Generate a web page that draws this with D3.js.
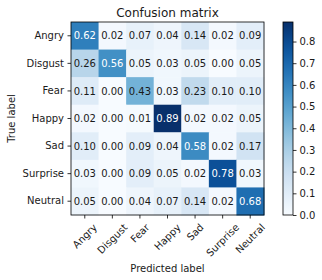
<!DOCTYPE html>
<html>
<head>
<meta charset="utf-8">
<script src="https://cdn.jsdelivr.net/npm/d3@7"></script>
<style>
  body { margin: 0; background: #fff; }
  text { font-family: "DejaVu Sans", sans-serif; fill: #1a1a1a; }
</style>
</head>
<body>
<div id="chart"></div>
<script>
// class names (rows = true, columns = predicted)
const classes = ["Angry", "Disgust", "Fear", "Happy", "Sad", "Surprise", "Neutral"];

// normalized confusion matrix, one row per true label
const rowAngry    = [0.62, 0.02, 0.07, 0.04, 0.14, 0.02, 0.09];
const rowDisgust  = [0.26, 0.56, 0.05, 0.03, 0.05, 0.00, 0.05];
const rowFear     = [0.11, 0.00, 0.43, 0.03, 0.23, 0.10, 0.10];
const rowHappy    = [0.02, 0.00, 0.01, 0.89, 0.02, 0.02, 0.05];
const rowSad      = [0.10, 0.00, 0.09, 0.04, 0.58, 0.02, 0.17];
const rowSurprise = [0.03, 0.00, 0.09, 0.05, 0.02, 0.78, 0.03];
const rowNeutral  = [0.05, 0.00, 0.04, 0.07, 0.14, 0.02, 0.68];
const matrix = [rowAngry, rowDisgust, rowFear, rowHappy, rowSad, rowSurprise, rowNeutral];

const colorbarTicks = [0.0, 0.1, 0.2, 0.3, 0.4, 0.5, 0.6, 0.7, 0.8];

const width = 322, height = 280;
const mLeft = 71, mTop = 22, size = 193;
const cbLeft = 283, cbWidth = 10;

const svg = d3.select("#chart").append("svg")
  .attr("width", width)
  .attr("height", height);

const vmax = d3.max(matrix.flat());
const color = d3.scaleSequential(d3.interpolateBlues).domain([0, vmax]);

const x = d3.scaleBand().domain(d3.range(classes.length)).range([mLeft, mLeft + size]);
const y = d3.scaleBand().domain(d3.range(classes.length)).range([mTop, mTop + size]);

// cells
const cells = [];
matrix.forEach((row, i) => row.forEach((v, j) => cells.push({ i, j, v })));

svg.append("g").selectAll("rect")
  .data(cells)
  .enter().append("rect")
  .attr("x", d => x(d.j))
  .attr("y", d => y(d.i))
  .attr("width", x.bandwidth() + 0.5)
  .attr("height", y.bandwidth() + 0.5)
  .attr("fill", d => color(d.v));

const thresh = vmax / 2;
svg.append("g").selectAll("text")
  .data(cells)
  .enter().append("text")
  .attr("x", d => x(d.j) + x.bandwidth() / 2)
  .attr("y", d => y(d.i) + y.bandwidth() / 2)
  .attr("dy", "0.36em")
  .attr("text-anchor", "middle")
  .style("font-size", "10px")
  .style("fill", d => d.v > thresh ? "#fff" : "#1a1a1a")
  .text(d => d.v.toFixed(2));

// frame
svg.append("rect")
  .attr("x", mLeft).attr("y", mTop)
  .attr("width", size).attr("height", size)
  .attr("fill", "none").attr("stroke", "#000").attr("stroke-width", 0.8);

// y axis
const yAxis = svg.append("g")
  .attr("transform", `translate(${mLeft},0)`)
  .call(d3.axisLeft(y).tickFormat(i => classes[i]).tickSize(3.5).tickPadding(3.5));
yAxis.select(".domain").remove();
yAxis.selectAll("text").style("font-size", "10px").attr("fill", "#1a1a1a");
yAxis.selectAll("line").attr("stroke", "#000").attr("stroke-width", 0.8);

// x axis
const xAxis = svg.append("g")
  .attr("transform", `translate(0,${mTop + size})`)
  .call(d3.axisBottom(x).tickFormat(i => classes[i]).tickSize(3.5));
xAxis.select(".domain").remove();
xAxis.selectAll("line").attr("stroke", "#000").attr("stroke-width", 0.8);
xAxis.selectAll("text")
  .style("font-size", "10px")
  .attr("fill", "#1a1a1a")
  .attr("text-anchor", "middle")
  .attr("dy", null)
  .attr("y", null)
  .each(function () {
    // matplotlib style: rotated label bbox centred under tick, top just below it
    const w = this.getComputedTextLength();
    const h = 10;
    const half = (w + h) / (2 * Math.SQRT2);
    const cy = 7 + half;
    d3.select(this)
      .attr("transform", `translate(0,${cy}) rotate(-45)`)
      .attr("dy", "0.35em");
  });

// axis titles
svg.append("text")
  .attr("x", mLeft + size / 2)
  .attr("y", 272)
  .attr("text-anchor", "middle")
  .style("font-size", "10px")
  .text("Predicted label");

svg.append("text")
  .attr("transform", `translate(15,${mTop + size / 2}) rotate(-90)`)
  .attr("text-anchor", "middle")
  .style("font-size", "10px")
  .text("True label");

// title
svg.append("text")
  .attr("x", mLeft + size / 2)
  .attr("y", 17)
  .attr("text-anchor", "middle")
  .style("font-size", "12px")
  .text("Confusion matrix");

// colorbar
const defs = svg.append("defs");
const grad = defs.append("linearGradient")
  .attr("id", "cbgrad")
  .attr("x1", 0).attr("y1", 1).attr("x2", 0).attr("y2", 0);
d3.range(0, 1.0001, 0.05).forEach(t => {
  grad.append("stop")
    .attr("offset", t)
    .attr("stop-color", color(t * vmax));
});

const cbScale = d3.scaleLinear().domain([0, vmax]).range([mTop + size, mTop]);

svg.append("rect")
  .attr("x", cbLeft).attr("y", mTop)
  .attr("width", cbWidth).attr("height", size)
  .attr("fill", "url(#cbgrad)");

svg.append("rect")
  .attr("x", cbLeft).attr("y", mTop)
  .attr("width", cbWidth).attr("height", size)
  .attr("fill", "none").attr("stroke", "#000").attr("stroke-width", 0.8);

const cbAxis = svg.append("g")
  .attr("transform", `translate(${cbLeft + cbWidth},0)`)
  .call(d3.axisRight(cbScale).tickValues(colorbarTicks).tickFormat(d3.format(".1f")).tickSize(3.5).tickPadding(3));
cbAxis.select(".domain").remove();
cbAxis.selectAll("line").attr("stroke", "#000").attr("stroke-width", 0.8);
cbAxis.selectAll("text").style("font-size", "10px").attr("fill", "#1a1a1a");
</script>
</body>
</html>
